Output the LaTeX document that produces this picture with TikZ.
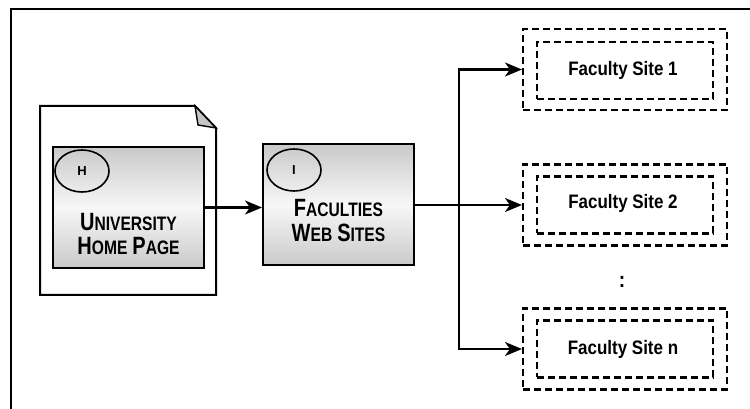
\documentclass[tikz,border=0pt]{standalone}
\usepackage{fontspec}
\setmainfont{Liberation Sans}
\newfontfamily\panelfont[FakeStretch=0.8]{Liberation Sans}
\newfontfamily\sitefont[FakeStretch=0.87]{Liberation Sans}
\usetikzlibrary{arrows.meta,shapes.geometric}

% hand-made small caps: first letter large, the rest smaller
\newcommand\scword[2]{{\fontsize{25}{25}\selectfont #1}{\fontsize{19.5}{19.5}\selectfont #2}}
\newcommand\scgap{\hspace{5pt}}

\tikzset{
  frameline/.style={line width=2.4pt},
  pageshape/.style={draw, line width=2pt, fill=white},
  panel/.style={draw, line width=2pt, rectangle, top color=gray!42,
    bottom color=gray!42, middle color=gray!6,
    minimum width=151pt, minimum height=121pt, inner sep=0pt},
  paneltext/.style={anchor=base, font=\panelfont\bfseries, text=black,
    inner sep=0pt},
  tag/.style={ellipse, draw, line width=1.6pt, minimum width=54pt,
    minimum height=42pt, inner sep=0pt,
    font=\bfseries\fontsize{13}{13}\selectfont},
  link/.style={line width=2.3pt, -{Stealth[length=17pt,width=14pt,inset=5pt]}},
  plain/.style={line width=2.3pt},
  sitebox/.style={draw, dash pattern=on 7pt off 4pt, line width=2.1pt,
    rectangle, inner sep=0pt},
  outerbox/.style={sitebox, minimum width=204pt, minimum height=81pt},
  innerbox/.style={sitebox, minimum width=176pt, minimum height=57pt},
  sitetext/.style={font=\sitefont\bfseries\fontsize{19.5}{19.5}\selectfont,
    inner sep=0pt}
}

\begin{document}
\begin{tikzpicture}[x=1pt,y=1pt]
\useasboundingbox (0,0) rectangle (750,409);

% frame (left and top edges)
\draw[frameline] (11,0) -- (11,400) -- (750,400);

% page with folded corner
\draw[pageshape] (40,114) -- (40,303) -- (195,303) -- (216,281) -- (216,114) -- cycle;
\draw[line width=1.4pt, fill=gray!45] (195,303) -- (198,284) -- (216,281) -- cycle;

% university home page panel
\node[panel] (uhp) at (128.5,201.5) {};
\node[tag] (tagh) at (82,238) {H};
\node[paneltext] (uhpline1) at (128.5,178) {\scword{U}{NIVERSITY}};
\node[paneltext] (uhpline2) at (128.5,154) {\scword{H}{OME}\scgap\scword{P}{AGE}};

% faculties web sites panel
\node[panel] (fws) at (338.5,204) {};
\node[tag] (tagi) at (294,239) {I};
\node[paneltext] (fwsline1) at (338.5,192) {\scword{F}{ACULTIES}};
\node[paneltext] (fwsline2) at (338.5,167) {\scword{W}{EB}\scgap\scword{S}{ITES}};

% faculty sites
\node[outerbox] (site1) at (625,339.5) {};
\node[innerbox] (site1in) at (625,338.5) {};
\node[sitetext] (site1text) at (623,339) {Faculty Site 1};

\node[outerbox] (site2) at (625,204) {};
\node[innerbox] (site2in) at (625,204) {};
\node[sitetext] (site2text) at (623,206) {Faculty Site 2};

\node[sitetext, font=\sitefont\bfseries\fontsize{22}{22}\selectfont] (dots) at (622,127) {:};

\node[outerbox] (siten) at (625,60) {};
\node[innerbox] (sitenin) at (625,60) {};
\node[sitetext] (sitentext) at (623,60) {Faculty Site n};

% connectors
\draw[link] (uhp.east) -- (uhp.east -| fws.west);
\coordinate (split) at (459,0 |- fws.east);
\draw[plain] (fws.east) -- (split);
\draw[link] (split) |- (site1.west);
\draw[link] (split) -- (site2.west);
\draw[link] (split) |- (siten.west);
\end{tikzpicture}
\end{document}
